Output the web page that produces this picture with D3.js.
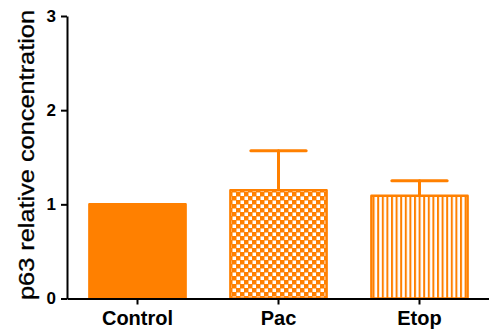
<!DOCTYPE html>
<html>
<head>
<meta charset="utf-8">
<script src="https://cdn.jsdelivr.net/npm/d3@7"></script>
<style>
  html, body { margin: 0; padding: 0; background: #fff; }
  svg { display: block; }
</style>
</head>
<body>
<svg id="chart" width="489" height="333"></svg>
<script>
// Groups, mean values and upper error (SEM) for p63 relative concentration
const categories = ["Control", "Pac", "Etop"];
const means = [1.0, 1.15, 1.09];
const errors = [0, 0.42, 0.16];
const yTicks = [0, 1, 2, 3];
const yTitle = "p63 relative concentration";

const orange = "#ff8000";
const svg = d3.select("#chart");

const x = d3.scaleBand().domain(categories).range([67, 490]).paddingInner(0.3).paddingOuter(0.15);
const y = d3.scaleLinear().domain([0, 3]).range([298.5, 16]);

// Fill patterns: solid, checkerboard, vertical stripes
const defs = svg.append("defs");
const chk = defs.append("pattern").attr("id", "checker")
  .attr("patternUnits", "userSpaceOnUse").attr("width", 8).attr("height", 8);
chk.append("rect").attr("width", 8).attr("height", 8).attr("fill", orange);
chk.append("rect").attr("x", 0.5).attr("y", 0.5).attr("width", 3.5).attr("height", 3.5).attr("fill", "#fff");
chk.append("rect").attr("x", 4.5).attr("y", 4.5).attr("width", 3.5).attr("height", 3.5).attr("fill", "#fff");

const str = defs.append("pattern").attr("id", "stripes")
  .attr("patternUnits", "userSpaceOnUse").attr("width", 4.6).attr("height", 10);
str.append("rect").attr("width", 4.6).attr("height", 10).attr("fill", "#fff");
str.append("rect").attr("x", 0).attr("width", 2).attr("height", 10).attr("fill", orange);

const fills = { "Control": orange, "Pac": "url(#checker)", "Etop": "url(#stripes)" };

const data = categories.map((c, i) => ({ cat: c, mean: means[i], err: errors[i] }));

// Error bars (upper only)
const eb = svg.append("g").attr("stroke", orange).attr("stroke-width", 3).attr("stroke-linecap", "round");
data.filter(d => d.err > 0).forEach(d => {
  const cx = x(d.cat) + x.bandwidth() / 2;
  const capW = x.bandwidth() * 0.56;
  eb.append("line").attr("x1", cx).attr("x2", cx).attr("y1", y(d.mean)).attr("y2", y(d.mean + d.err));
  eb.append("line").attr("x1", cx - capW / 2).attr("x2", cx + capW / 2)
    .attr("y1", y(d.mean + d.err)).attr("y2", y(d.mean + d.err));
});

// Bars
svg.append("g").selectAll("rect").data(data).join("rect")
  .attr("x", d => x(d.cat) + 1.25)
  .attr("width", x.bandwidth() - 2.5)
  .attr("y", d => y(d.mean))
  .attr("height", d => y(0) - y(d.mean))
  .attr("fill", d => fills[d.cat])
  .attr("stroke", orange)
  .attr("stroke-width", 2.5)
  .attr("stroke-linejoin", "round");

// Y axis
const yAxis = svg.append("g").attr("transform", "translate(67,0)")
  .call(d3.axisLeft(y).tickValues(yTicks).tickFormat(d3.format("d")).tickSize(6).tickSizeOuter(0));
yAxis.select(".domain").attr("stroke", "#000").attr("stroke-width", 2);
yAxis.selectAll(".tick line").attr("stroke", "#000").attr("stroke-width", 2);
yAxis.selectAll(".tick text")
  .attr("x", -11)
  .attr("font-family", "Liberation Sans, Arial, sans-serif")
  .attr("font-weight", "bold").attr("font-size", 17).attr("fill", "#000");

// X axis
const xAxis = svg.append("g").attr("transform", `translate(0,${y(0)})`)
  .call(d3.axisBottom(x).tickSize(6).tickSizeOuter(0));
xAxis.select(".domain").attr("stroke", "#000").attr("stroke-width", 2);
xAxis.selectAll(".tick line").attr("stroke", "#000").attr("stroke-width", 2);
xAxis.selectAll(".tick text")
  .attr("y", 12)
  .attr("font-family", "Liberation Sans, Arial, sans-serif")
  .attr("font-weight", "bold").attr("font-size", 20).attr("fill", "#000");

// Y axis title
svg.append("text")
  .attr("transform", "translate(34,155) rotate(-90)")
  .attr("text-anchor", "middle")
  .attr("font-family", "Liberation Sans, Arial, sans-serif")
  .attr("font-size", 22)
  .attr("textLength", 290)
  .attr("lengthAdjust", "spacingAndGlyphs")
  .attr("fill", "#000")
  .attr("stroke", "#000")
  .attr("stroke-width", 0.3)
  .text(yTitle);
</script>
</body>
</html>
